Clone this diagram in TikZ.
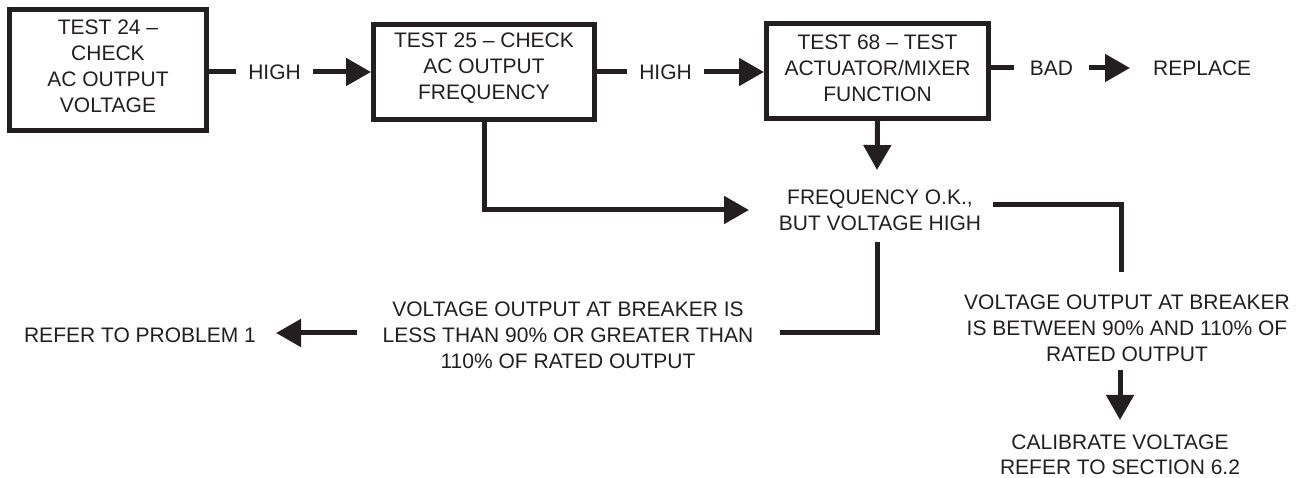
\documentclass[tikz,border=0pt]{standalone}
\usepackage{fontspec}
\setmainfont{Liberation Sans}
\usetikzlibrary{arrows.meta}
\definecolor{ink}{RGB}{35,31,32}
\begin{document}
\begin{tikzpicture}[x=1pt,y=-1pt,
  every node/.style={font=\fontsize{21}{26}\selectfont, text=ink, align=center, inner sep=0pt},
  box/.style={draw=ink, line width=5pt, line join=miter},
  conn/.style={draw=ink, line width=5pt, line join=miter},
  arr/.style={conn, -{Triangle[length=25pt,width=27pt]}}]
\useasboundingbox (0,0) rectangle (1302,478);
% boxes
\node[box, minimum width=197pt, minimum height=121pt] (b1) at (108,70) {};
\node[box, minimum width=221pt, minimum height=95pt] (b2) at (484,72) {};
\node[box, minimum width=222pt, minimum height=95pt] (b3) at (877.5,71) {};
\node (b1t) at (108,66) {TEST 24 –\\CHECK\\AC OUTPUT\\VOLTAGE};
\node (b2t) at (484,68) {TEST 25 – CHECK\\AC OUTPUT\\FREQUENCY};
\node (b3t) at (877.5,68) {TEST 68 – TEST\\ACTUATOR/MIXER\\FUNCTION};
% labels
\node[inner xsep=12pt] (h1) at (274.5,72) {HIGH};
\node[inner xsep=12pt] (h2) at (665.5,72) {HIGH};
\node[inner xsep=16pt] (bad) at (1051.5,68) {BAD};
\node[inner xsep=23pt, anchor=west] (rep) at (1130,68) {REPLACE};
\node (freq) at (880,210) {FREQUENCY O.K.,\\BUT VOLTAGE HIGH};
\node (low) at (568,335) {VOLTAGE OUTPUT AT BREAKER IS\\LESS THAN 90\% OR GREATER THAN\\110\% OF RATED OUTPUT};
\node (prob) at (140,335) {REFER TO PROBLEM 1};
\node (ok) at (1127,328) {VOLTAGE OUTPUT AT BREAKER\\IS BETWEEN 90\% AND 110\% OF\\RATED OUTPUT};
\node[font=\fontsize{21}{25}\selectfont] (cal) at (1120,455) {CALIBRATE VOLTAGE\\REFER TO SECTION 6.2};
% connector points
\coordinate (fin) at (877,170);
\coordinate (b2c) at (484,210);
\coordinate (fl) at (749,210);
\coordinate (fr) at (993,205);
\coordinate (rc) at (1121,205);
\coordinate (rt) at (1121,272);
\coordinate (ctop) at (877,242);
\coordinate (cc) at (877,333);
\coordinate (lr) at (780,333);
\coordinate (ll) at (357,333);
\coordinate (pr) at (276,333);
\coordinate (ob) at (1120,370);
\coordinate (ct) at (1120,420);
% connectors
\draw[conn] (b1.east |- h1.west) -- (h1.west);
\draw[arr] (h1.east) -- (b2.west |- h1.east);
\draw[conn] (b2.east |- h2.west) -- (h2.west);
\draw[arr] (h2.east) -- (b3.west |- h2.east);
\draw[conn] (b3.east |- bad.west) -- (bad.west);
\draw[arr] (bad.east) -- (rep.west);
\draw[arr] (b3.south) -- (fin);
\draw[arr] (b2.south) -- (b2c) -- (fl);
\draw[conn] (fr) -- (rc) -- (rt);
\draw[conn] (ctop) -- (cc) -- (lr);
\draw[arr] (ll) -- (pr);
\draw[arr] (ob) -- (ct);
\end{tikzpicture}
\end{document}
